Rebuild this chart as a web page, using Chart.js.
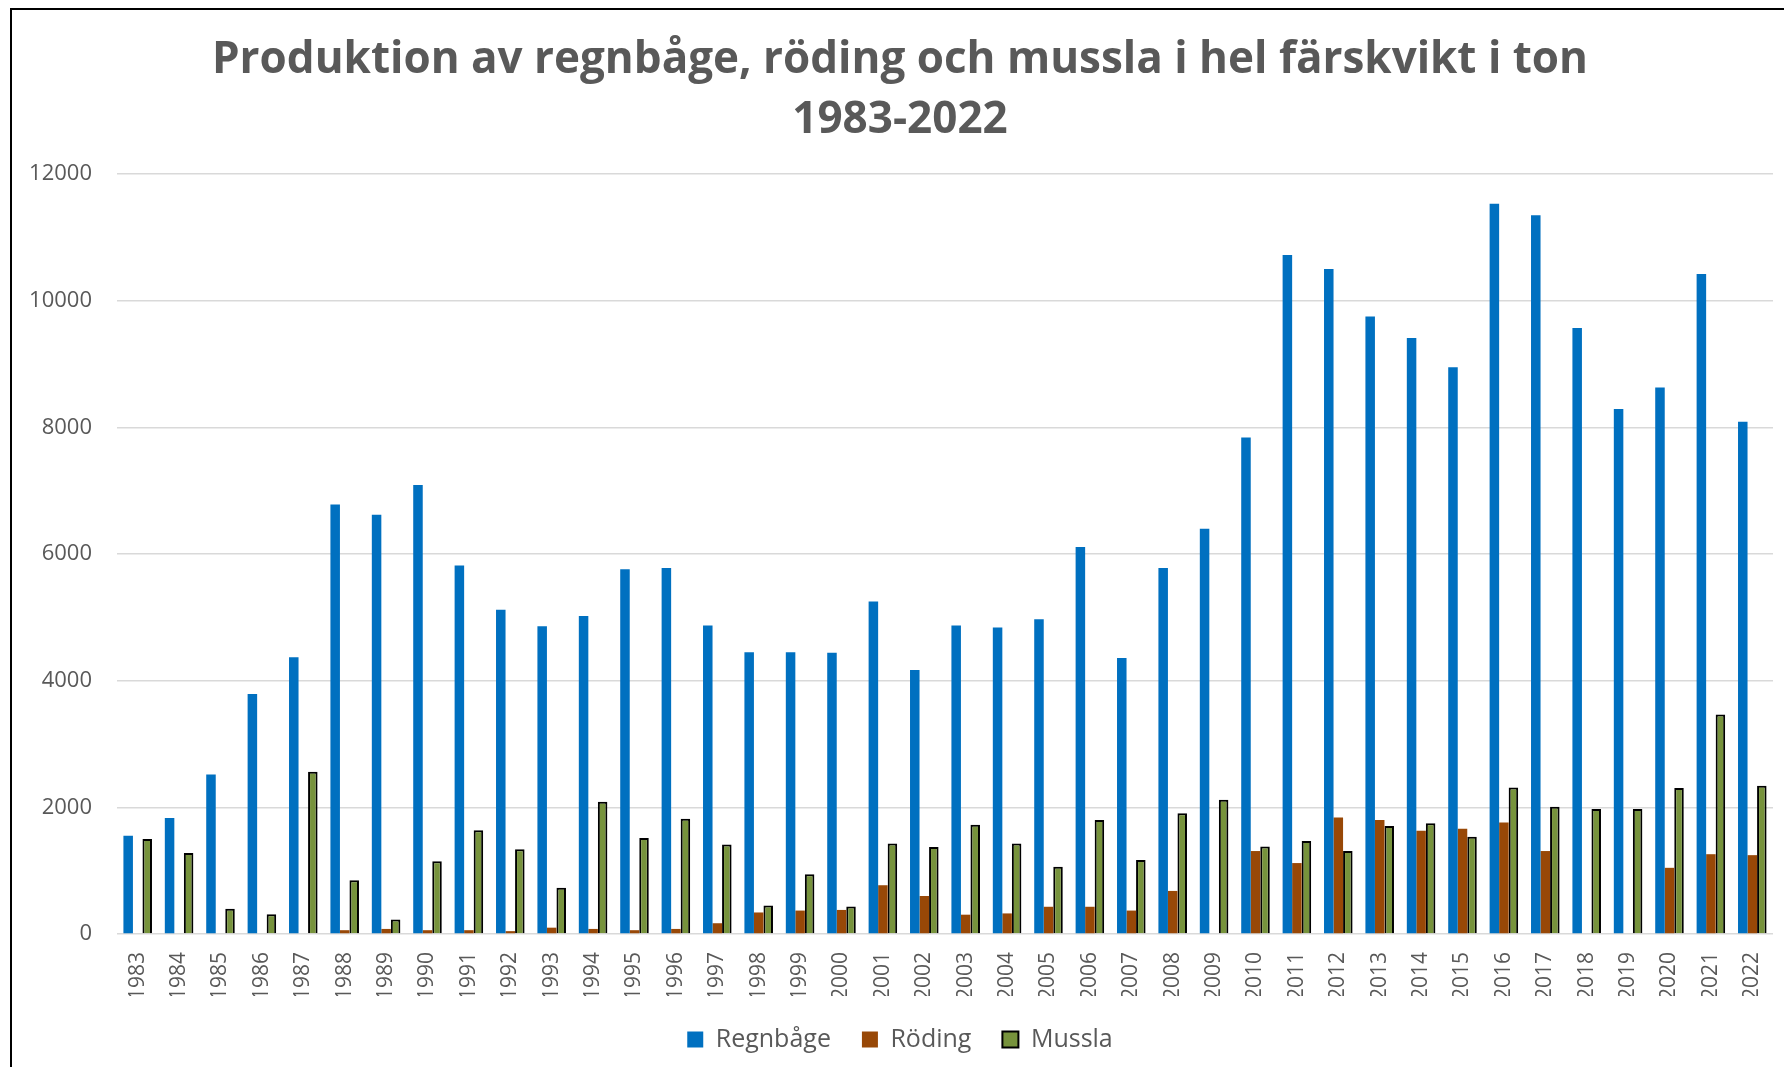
<!DOCTYPE html>
<html lang="sv">
<head>
<meta charset="utf-8">
<title>Produktion av regnbåge, röding och mussla</title>
<script src="https://cdn.jsdelivr.net/npm/chart.js@4.4.1/dist/chart.umd.min.js"></script>
<style>
    html, body { margin: 0; padding: 0; background: #fff; overflow: hidden; }
    body { width: 1784px; height: 1067px; position: relative; }
    #frame {
        position: absolute; left: 10px; top: 8px;
        width: 2000px; height: 2000px;
        border: 2px solid #000; box-sizing: border-box;
    }
    #chart { position: absolute; left: 27px; top: 10px; }
</style>
</head>
<body>
<div id="frame"></div>
<canvas id="chart" width="1746" height="1052"></canvas>
<script>
// data (ton)
const years = ['1983', '1984', '1985', '1986', '1987', '1988', '1989', '1990', '1991', '1992',
    '1993', '1994', '1995', '1996', '1997', '1998', '1999', '2000', '2001', '2002',
    '2003', '2004', '2005', '2006', '2007', '2008', '2009', '2010', '2011', '2012',
    '2013', '2014', '2015', '2016', '2017', '2018', '2019', '2020', '2021', '2022'];

const regnbage = [1550, 1830, 2520, 3790, 4370, 6780, 6620, 7090, 5820, 5120,
    4860, 5020, 5760, 5780, 4870, 4450, 4450, 4440, 5250, 4170,
    4870, 4840, 4970, 6110, 4360, 5780, 6400, 7840, 10720, 10500,
    9750, 9410, 8950, 11530, 11350, 9570, 8290, 8630, 10420, 8090];

const roding = [0, 0, 0, 0, 0, 60, 80, 60, 60, 45,
    100, 80, 60, 80, 170, 340, 370, 380, 770, 600,
    305, 325, 430, 430, 370, 680, 0, 1310, 1120, 1840,
    1800, 1630, 1660, 1760, 1310, 0, 0, 1045, 1260, 1245];

const mussla = [1500, 1280, 400, 310, 2560, 850, 230, 1150, 1640, 1340,
    730, 2090, 1515, 1820, 1415, 450, 945, 435, 1430, 1375,
    1725, 1430, 1060, 1800, 1170, 1905, 2120, 1380, 1470, 1310,
    1705, 1750, 1535, 2315, 2010, 1975, 1975, 2305, 3465, 2340];

const seriesNames = ['Regnbåge', 'Röding', 'Mussla'];
const titleLines = ['Produktion av regnbåge, röding och mussla i hel färskvikt i ton', '1983-2022'];
const yMax = 12000;
const yStep = 2000;

const textGrey = '#595959';
Chart.defaults.font.family = "'Open Sans', sans-serif";
Chart.defaults.color = textGrey;

new Chart(document.getElementById('chart'), {
    type: 'bar',
    data: {
        labels: years,
        datasets: [
            { label: seriesNames[0], data: regnbage, backgroundColor: '#0070C0', borderWidth: 0 },
            { label: seriesNames[1], data: roding, backgroundColor: '#984807', borderWidth: 0 },
            { label: seriesNames[2], data: mussla, backgroundColor: '#77933C', borderColor: '#000000', borderWidth: 2 }
        ]
    },
    options: {
        responsive: false,
        animation: false,
        categoryPercentage: 0.69,
        barPercentage: 1.0,
        layout: { padding: 0 },
        plugins: {
            title: {
                display: true,
                text: titleLines,
                color: textGrey,
                font: { size: 44, weight: 'bold', lineHeight: 1.364 },
                padding: { top: 20, bottom: 24 }
            },
            legend: {
                position: 'bottom',
                labels: {
                    color: textGrey,
                    font: { size: 25 },
                    boxWidth: 16,
                    boxHeight: 16,
                    padding: 31
                }
            },
            tooltip: { enabled: false }
        },
        scales: {
            x: {
                grid: { display: false, drawTicks: false },
                border: { display: false },
                ticks: {
                    autoSkip: false,
                    minRotation: 90,
                    maxRotation: 90,
                    padding: 18,
                    color: textGrey,
                    font: { size: 21 }
                },
                afterFit: (scale) => {
                    // keep the plot flush with the canvas edges
                    scale.height = 62;
                    scale.paddingLeft = 0;
                    scale.paddingRight = 0;
                }
            },
            y: {
                min: 0,
                max: yMax,
                grid: { color: '#d9d9d9', lineWidth: 1.5, drawTicks: false },
                border: { display: false },
                ticks: {
                    stepSize: yStep,
                    padding: 25,
                    color: textGrey,
                    font: { size: 22 },
                    callback: (value) => String(value)
                },
                afterFit: (scale) => { scale.width = 90; }
            }
        }
    }
});
</script>
</body>
</html>
